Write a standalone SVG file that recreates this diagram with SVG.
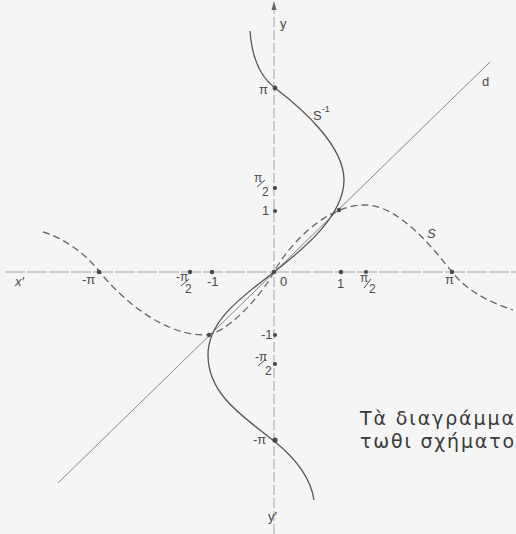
<svg xmlns="http://www.w3.org/2000/svg" width="516" height="534" viewBox="0 0 516 534">
<defs>
<style>
.lbl{font-family:"Liberation Sans","DejaVu Sans",sans-serif;font-size:13px;fill:#4a4a4a}
.sub{font-size:12px}
.big{font-family:"DejaVu Sans","Liberation Sans",sans-serif;font-size:19px;fill:#3a3a3a}
.axis{stroke:#a3a3a3;stroke-width:1;fill:none}
.curve{stroke:#555;stroke-width:1.3;fill:none}
.dash{stroke:#666;stroke-width:1.3;fill:none;stroke-dasharray:7 4}
.diag{stroke:#888;stroke-width:1;fill:none}
.dot{fill:#4a4a4a}
</style>
</defs>
<rect x="0" y="0" width="516" height="534" fill="#f5f5f5"/>
<g id="connectors">
<line id="x-axis" class="axis" x1="5" y1="272" x2="516" y2="272" stroke-dasharray="20 2"/>
<line id="y-axis" class="axis" x1="274" y1="534" x2="274" y2="6" stroke-dasharray="10 3"/>
<path id="y-arrow" d="M274,1 L276.5,10 L271.5,10 Z" fill="#666"/>
<line id="d-line" class="diag" x1="58" y1="483" x2="490" y2="62"/>
<path id="S-inv" class="curve" d="M250,31 C251,45 255,73 275,88 C300,107 344,145 344,180 C344,215 305,248 274,272 C243,296 208,320 208,355 C208,395 244,417 274,441 C299,461 311,480 314,500"/>
<path id="S" class="dash" d="M43,232 C60,236 85,253 99,271 C117,294 160,335 205,335 C225,335 260,298 274,272 C288,246 325,205 365,205 C400,205 436,252 452,272 C468,292 490,302 513,310"/>
</g>
<g id="dots">
<circle class="dot" cx="99" cy="272" r="2.3"/>
<circle class="dot" cx="190" cy="272" r="2.2"/>
<circle class="dot" cx="212" cy="272" r="2.2"/>
<circle class="dot" cx="274" cy="272" r="2.3"/>
<circle class="dot" cx="341" cy="272" r="2.2"/>
<circle class="dot" cx="366" cy="272" r="2"/>
<circle class="dot" cx="452" cy="272" r="2.2"/>
<circle class="dot" cx="275" cy="88" r="2.4"/>
<circle class="dot" cx="275" cy="188" r="2.1"/>
<circle class="dot" cx="275" cy="211" r="2.1"/>
<circle class="dot" cx="275" cy="335" r="2.1"/>
<circle class="dot" cx="275" cy="364" r="2.1"/>
<circle class="dot" cx="275" cy="440" r="2.6"/>
<circle class="dot" cx="339" cy="210" r="2.2"/>
<circle class="dot" cx="209" cy="335" r="2.2"/>
</g>
<g id="labels">
<text class="lbl" x="280" y="28">y</text>
<text class="lbl" x="268" y="521">y′</text>
<text class="lbl" x="15" y="286" font-family="Liberation Serif,serif" font-style="italic" font-size="15">x′</text>
<text class="lbl" x="482" y="86" font-family="Liberation Serif,serif" font-size="18">d</text>
<text class="lbl" x="427" y="238" font-style="italic" font-size="16">S</text>
<text class="lbl" x="313" y="120" font-size="15">S<tspan dy="-8" font-size="9">-1</tspan></text>
<text class="lbl" x="259" y="94">π</text>
<text class="lbl sub" x="254" y="182">π</text>
<text class="lbl sub" x="262" y="196">2</text>
<text class="lbl" x="262" y="215">1</text>
<text class="lbl" x="261" y="339">-1</text>
<text class="lbl sub" x="255" y="361">-π</text>
<text class="lbl sub" x="265" y="375">2</text>
<text class="lbl" x="253" y="444">-π</text>
<text class="lbl" x="82" y="284">-π</text>
<text class="lbl sub" x="176" y="281">-π</text>
<text class="lbl sub" x="185" y="293">2</text>
<text class="lbl" x="207" y="286">-1</text>
<text class="lbl" x="280" y="286">0</text>
<text class="lbl" x="337" y="288">1</text>
<text class="lbl sub" x="360" y="282">π</text>
<text class="lbl sub" x="369" y="293">2</text>
<text class="lbl" x="445" y="284">π</text>
</g>
<g id="fraction-bars" stroke="#4a4a4a" stroke-width="1">
<line x1="257" y1="187" x2="265" y2="180"/>
<line x1="258" y1="366" x2="266" y2="359"/>
<line x1="181" y1="286" x2="189" y2="279"/>
<line x1="364" y1="288" x2="371" y2="279"/>
</g>
<g id="caption">
<text class="big" x="360" y="425" textLength="154" lengthAdjust="spacing">Τὰ διαγράμμα</text>
<text class="big" x="360" y="448" textLength="154" lengthAdjust="spacing">τωθι σχήματο</text>
</g>
</svg>
